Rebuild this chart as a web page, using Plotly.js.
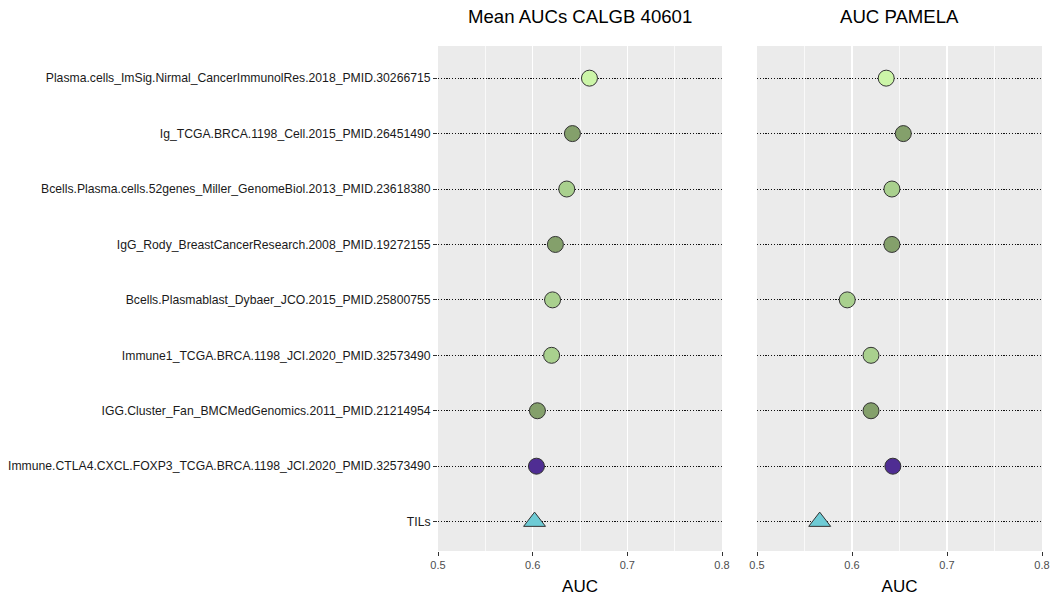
<!DOCTYPE html>
<html>
<head>
<meta charset="utf-8">
<script src="https://cdn.plot.ly/plotly-3.0.1.min.js"></script>
<style>html,body{margin:0;padding:0;background:#fff;}#chart{width:1052px;height:601px;}</style>
</head>
<body>
<div id="chart"></div>
<script>
// Signatures, top to bottom
const signatures = [
  "Plasma.cells_ImSig.Nirmal_CancerImmunolRes.2018_PMID.30266715",
  "Ig_TCGA.BRCA.1198_Cell.2015_PMID.26451490",
  "Bcells.Plasma.cells.52genes_Miller_GenomeBiol.2013_PMID.23618380",
  "IgG_Rody_BreastCancerResearch.2008_PMID.19272155",
  "Bcells.Plasmablast_Dybaer_JCO.2015_PMID.25800755",
  "Immune1_TCGA.BRCA.1198_JCI.2020_PMID.32573490",
  "IGG.Cluster_Fan_BMCMedGenomics.2011_PMID.21214954",
  "Immune.CTLA4.CXCL.FOXP3_TCGA.BRCA.1198_JCI.2020_PMID.32573490",
  "TILs"
];
const aucCALGB  = [0.660, 0.642, 0.636, 0.624, 0.621, 0.620, 0.605, 0.604, 0.602];
const aucPAMELA = [0.636, 0.654, 0.642, 0.642, 0.595, 0.620, 0.620, 0.643, 0.566];
const pointColors = ["#CCF5A8", "#84A06B", "#A9D08E", "#84A06B", "#A9D08E", "#A9D08E", "#84A06B", "#4F2D93", "#6ECBD5"];
const pointSymbols = ["circle","circle","circle","circle","circle","circle","circle","circle","triangle-up"];
const pointSizes = [16,16,16,16,16,16,16,16,19];
const panelTitles = ["Mean AUCs CALGB 40601", "AUC PAMELA"];
const xTicks = [0.5, 0.6, 0.7, 0.8];
const xTickText = ["0.5", "0.6", "0.7", "0.8"];

const marker = {color: pointColors, symbol: pointSymbols, size: pointSizes, opacity: 1, line: {color: "#333333", width: 1}};
const traces = [
  {type: "scatter", mode: "markers", x: aucCALGB, y: signatures, xaxis: "x", yaxis: "y", marker: marker, showlegend: false, cliponaxis: false},
  {type: "scatter", mode: "markers", x: aucPAMELA, y: signatures, xaxis: "x2", yaxis: "y2", marker: marker, showlegend: false, cliponaxis: false}
];

const font = "Liberation Sans, Arial, sans-serif";
function xax(domain, anchor) {
  return {
    domain: domain, anchor: anchor, range: [0.5, 0.8],
    tickvals: xTicks, ticktext: xTickText,
    ticks: "outside", ticklen: 4, tickcolor: "#333333", tickwidth: 1,
    tickfont: {family: font, size: 11, color: "#4D4D4D"},
    showgrid: true, gridcolor: "#FFFFFF", gridwidth: 1.6,
    minor: {dtick: 0.05, tick0: 0.5, showgrid: true, gridcolor: "#FFFFFF", gridwidth: 0.7, ticks: ""},
    zeroline: false, showline: false,
    title: {text: "AUC", font: {family: font, size: 17, color: "#000"}, standoff: 9},
    fixedrange: true
  };
}
function yax(anchor, labels) {
  return {
    anchor: anchor, domain: [0, 1], type: "category",
    categoryorder: "array", categoryarray: signatures.slice().reverse(),
    range: [-0.53, 8.58],
    showticklabels: labels, ticks: labels ? "outside" : "", ticklen: 4, tickcolor: "#333333",
    tickfont: {family: font, size: 12.2, color: "#1A1A1A"},
    showgrid: true, gridcolor: "#111111", gridwidth: 1, griddash: "1.2px,1.6px",
    zeroline: false, showline: false, fixedrange: true
  };
}
const layout = {
  width: 1052, height: 601,
  margin: {l: 0, r: 0, t: 46, b: 50},
  paper_bgcolor: "#FFFFFF", plot_bgcolor: "#EBEBEB",
  xaxis: xax([438/1052, 722/1052], "y"),
  yaxis: yax("x", true),
  xaxis2: xax([757/1052, 1042/1052], "y2"),
  yaxis2: yax("x2", false),
  annotations: [
    {text: panelTitles[0], xref: "paper", yref: "paper", x: 580/1052, y: 1, yshift: 30, showarrow: false, xanchor: "center", yanchor: "middle", font: {family: font, size: 18.6, color: "#000"}},
    {text: panelTitles[1], xref: "paper", yref: "paper", x: 899.5/1052, y: 1, yshift: 30, showarrow: false, xanchor: "center", yanchor: "middle", font: {family: font, size: 18.6, color: "#000"}}
  ],
  showlegend: false
};
Plotly.newPlot("chart", traces, layout, {displayModeBar: false, staticPlot: true});
</script>
</body>
</html>
